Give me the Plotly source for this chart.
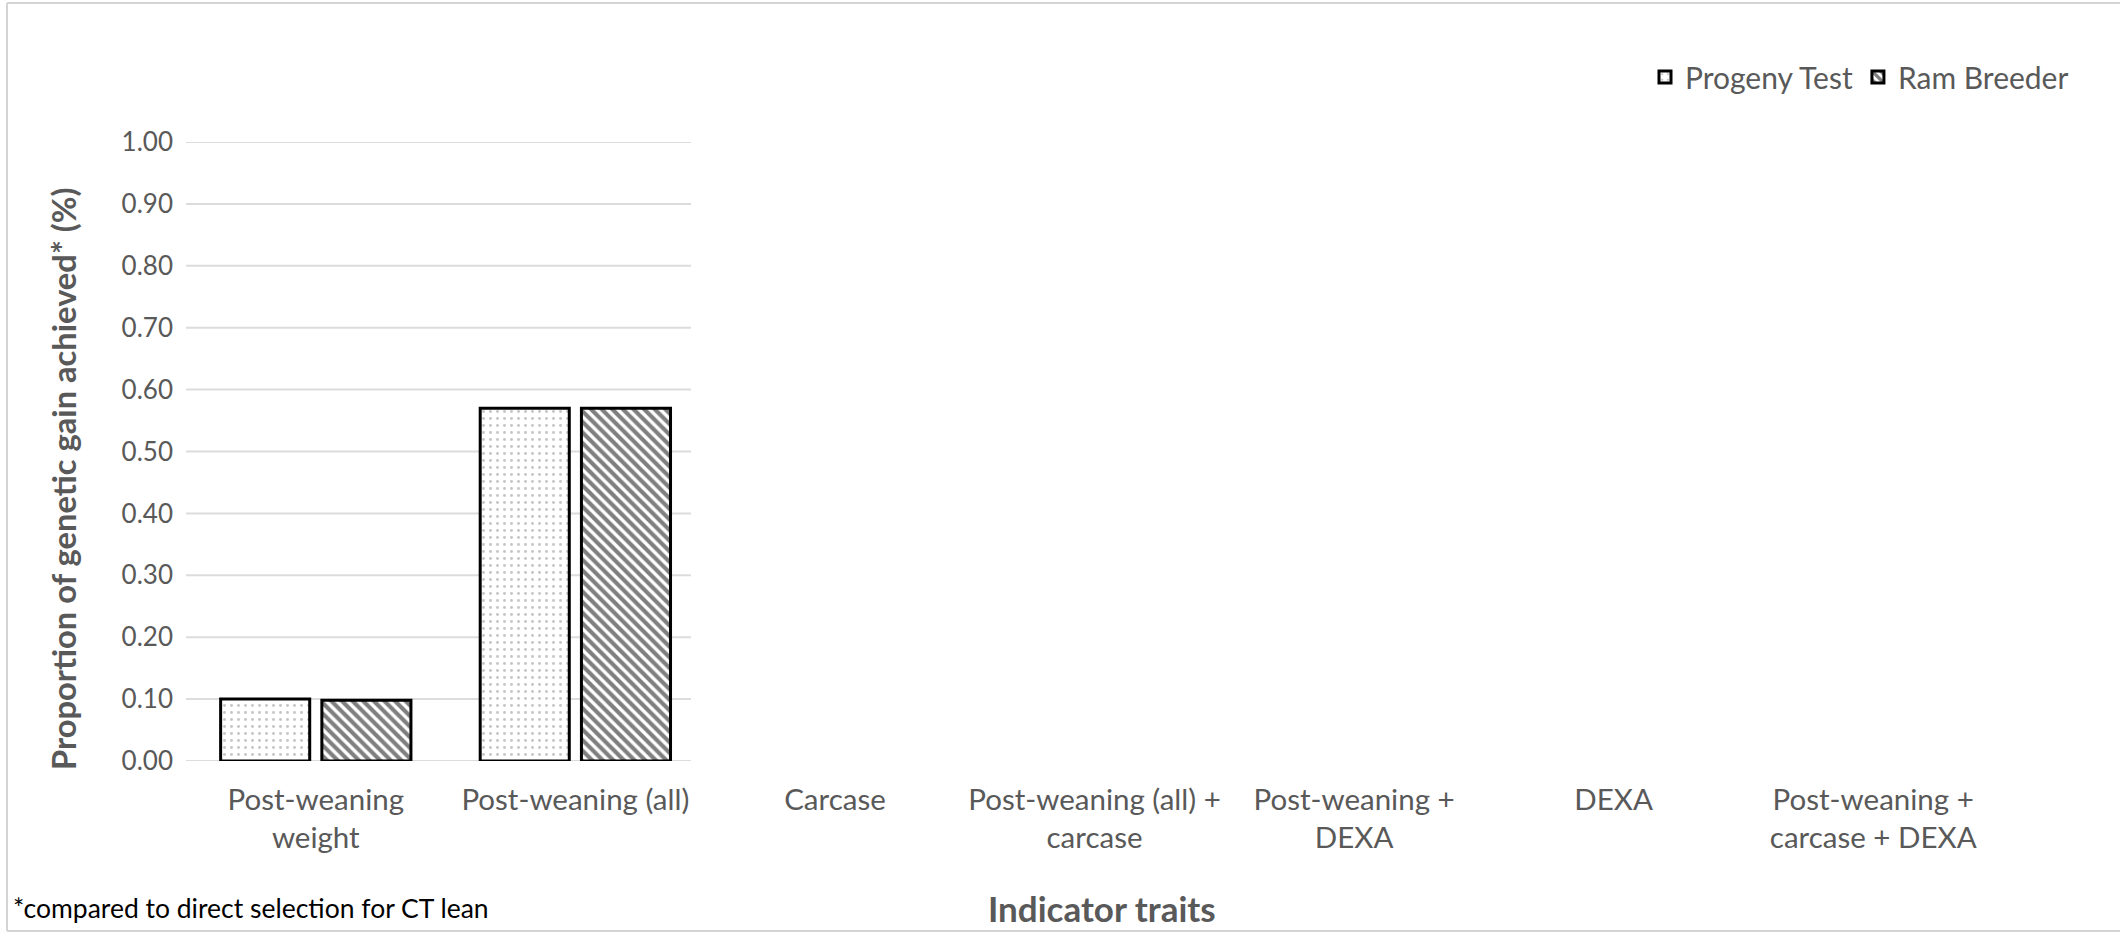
import plotly.graph_objects as go

# Indicator trait combinations (x categories)
categories = [
    "Post-weaning<br>weight",
    "Post-weaning (all)",
    "Carcase",
    "Post-weaning (all) +<br>carcase",
    "Post-weaning +<br>DEXA",
    "DEXA",
    "Post-weaning +<br>carcase + DEXA",
]

# Proportion of genetic gain achieved relative to direct selection for CT lean
progeny_test = [0.10, 0.57, None, None, None, None, None]
ram_breeder = [0.098, 0.57, None, None, None, None, None]

y_ticks = [0.0, 0.1, 0.2, 0.3, 0.4, 0.5, 0.6, 0.7, 0.8, 0.9, 1.0]

FONT = "Lato"
GREY = "#595959"

W, H = 2120, 938
L, R, T, B = 186, 117, 142, 177
pw = W - L - R
ph = H - T - B


def px_x(px):
    return (px - L) / pw


def px_y(py):
    return (H - B - py) / ph


fig = go.Figure()

fig.add_trace(go.Bar(
    name="Progeny Test",
    x=categories,
    y=progeny_test,
    marker=dict(
        color="white",
        line=dict(color="black", width=3),
        pattern=dict(shape=".", fgcolor="#8c8c8c", bgcolor="white",
                     size=7, solidity=0.14, fillmode="overlay"),
    ),
))

fig.add_trace(go.Bar(
    name="Ram Breeder",
    x=categories,
    y=ram_breeder,
    marker=dict(
        color="white",
        line=dict(color="black", width=3),
        pattern=dict(shape="\\", fgcolor="black", bgcolor="white",
                     size=7.5, solidity=0.55, fillmode="overlay"),
    ),
))

# Horizontal gridlines covering the left part of the plot
shapes = []
for v in y_ticks:
    shapes.append(dict(
        type="line", xref="paper", yref="y",
        x0=0, x1=px_x(691), y0=v, y1=v,
        line=dict(color="#dcdcdc", width=2), layer="below",
    ))

# Outer frame of the chart area (top, left and bottom edges)
frame = "#d4d4d4"
for x0, y0, x1, y1 in [(7, 3, 2120, 3), (7, 3, 7, 931), (7, 931, 2120, 931)]:
    shapes.append(dict(
        type="line", xref="paper", yref="paper",
        x0=px_x(x0), x1=px_x(x1), y0=px_y(y0), y1=px_y(y1),
        line=dict(color=frame, width=2), layer="below",
    ))

fig.update_layout(
    width=W, height=H,
    margin=dict(l=L, r=R, t=T, b=B),
    paper_bgcolor="white",
    plot_bgcolor="white",
    barmode="group",
    bargap=0.22,
    bargroupgap=0.12,
    font=dict(family=FONT, color=GREY, size=26),
    shapes=shapes,
    showlegend=True,
    legend=dict(
        orientation="h",
        x=px_x(2074), xanchor="right",
        y=px_y(77), yanchor="middle",
        font=dict(family=FONT, size=30, color=GREY),
        itemwidth=30,
        bgcolor="rgba(0,0,0,0)",
    ),
    xaxis=dict(
        showgrid=False, zeroline=False, showline=False,
        ticks="", tickfont=dict(family=FONT, size=29.5, color=GREY),
        ticklabelstandoff=18,
    ),
    yaxis=dict(
        range=[0, 1.0],
        tickvals=y_ticks,
        tickformat=".2f",
        showgrid=False, zeroline=False, showline=False,
        ticks="", tickfont=dict(family=FONT, size=26, color=GREY),
        ticklabelstandoff=12,
    ),
    annotations=[
        dict(
            text="<b>Proportion of genetic gain achieved* (%)</b>",
            xref="paper", yref="paper",
            x=px_x(63), y=px_y(479),
            xanchor="center", yanchor="middle",
            textangle=-90, showarrow=False,
            font=dict(family=FONT, size=32.7, color=GREY),
        ),
        dict(
            text="<b>Indicator traits</b>",
            xref="paper", yref="paper",
            x=px_x(1102), y=px_y(908),
            xanchor="center", yanchor="middle",
            showarrow=False,
            font=dict(family=FONT, size=35, color=GREY),
        ),
        dict(
            text="*compared to direct selection for CT lean",
            xref="paper", yref="paper",
            x=px_x(11), y=px_y(908),
            xanchor="left", yanchor="middle",
            showarrow=False,
            font=dict(family=FONT, size=26.5, color="black"),
        ),
    ],
)

fig.write_html("out.html")
